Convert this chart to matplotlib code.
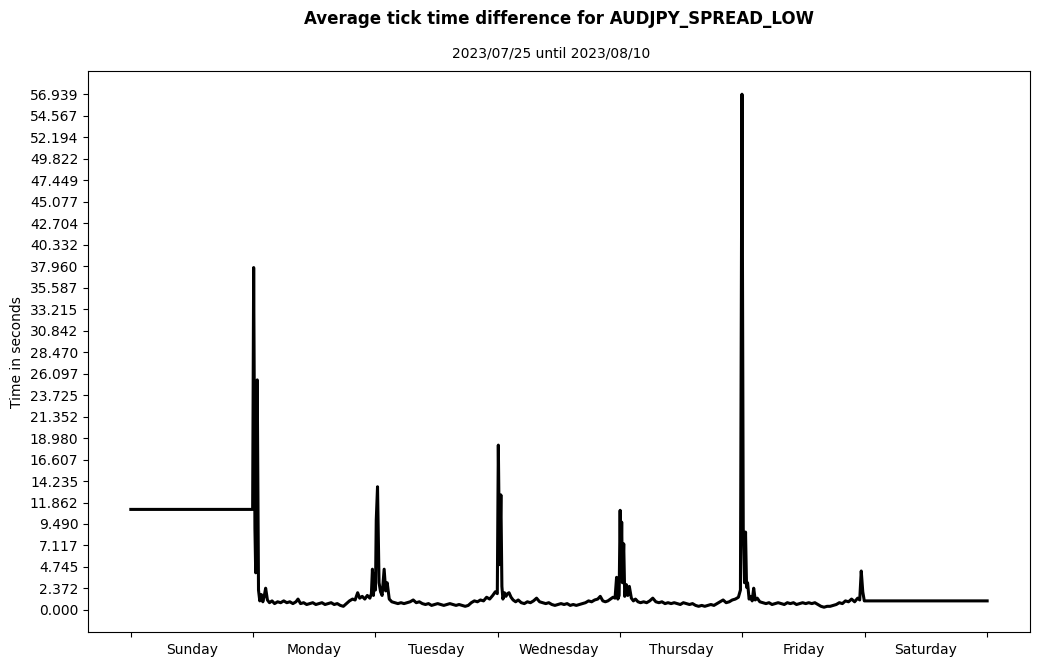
import matplotlib
matplotlib.use("Agg")
import matplotlib.pyplot as plt
import numpy as np

# hours since start of week (Sunday 00:00) and average seconds between ticks
sun_h = [0.0, 23.9]
sun_v = [11.1, 11.1]

mon_h = [24.1, 24.35, 24.5, 24.8, 25.05, 25.3, 25.6, 25.9, 26.2, 26.45, 26.8, 27.2,
         27.7, 28.2, 28.8, 29.4, 30.0, 30.6, 31.2, 31.8, 32.4, 32.8, 33.3, 33.9,
         34.5, 35.1, 35.7, 36.3, 36.9, 37.5, 38.1, 38.7, 39.3, 39.9, 40.5, 41.1,
         41.7, 42.3, 42.9, 43.5, 44.0, 44.5, 44.9, 45.4, 45.9, 46.4, 46.9, 47.2,
         47.4, 47.6, 47.8, 48.0, 48.15, 48.4, 48.7, 49.0, 49.3, 49.7, 50.0, 50.3, 50.7]
mon_v = [37.8, 9.0, 4.1, 25.4, 2.2, 1.0, 1.7, 0.9, 1.6, 2.4, 1.1, 0.8,
         1.0, 0.7, 0.9, 0.8, 1.0, 0.8, 0.9, 0.7, 0.9, 1.2, 0.7, 0.8,
         0.6, 0.7, 0.8, 0.6, 0.7, 0.8, 0.6, 0.7, 0.8, 0.6, 0.7, 0.5,
         0.4, 0.7, 1.0, 1.2, 1.1, 1.9, 1.3, 1.5, 1.2, 1.6, 1.3, 1.8,
         4.5, 1.6, 4.0, 2.2, 9.9, 13.6, 3.0, 2.0, 1.6, 4.5, 2.1, 3.0, 1.2]

tue_h = [51.2, 51.8, 52.4, 53.0, 53.6, 54.2, 54.8, 55.4, 56.0, 56.6, 57.2, 57.8,
         58.4, 59.0, 59.6, 60.2, 60.8, 61.4, 62.0, 62.6, 63.2, 63.8, 64.4, 65.0,
         65.6, 66.2, 66.8, 67.4, 68.0, 68.6, 69.2, 69.8, 70.4, 71.0, 71.5, 71.9]
tue_v = [0.9, 0.8, 0.7, 0.8, 0.7, 0.8, 0.9, 1.1, 0.8, 0.9, 0.7, 0.6,
         0.7, 0.5, 0.6, 0.7, 0.6, 0.5, 0.6, 0.7, 0.6, 0.5, 0.6, 0.5,
         0.4, 0.5, 0.8, 1.0, 0.9, 1.1, 1.0, 1.4, 1.2, 1.6, 2.0, 1.8]

wed_h = [72.1, 72.35, 72.6, 72.8, 73.0, 73.3, 73.6, 73.9, 74.2, 74.6, 75.0, 75.5,
         76.0, 76.6, 77.2, 77.8, 78.4, 79.0, 79.6, 80.2, 80.8, 81.4, 82.0, 82.6,
         83.2, 83.8, 84.4, 85.0, 85.6, 86.2, 86.8, 87.4, 88.0, 88.6, 89.2, 89.8,
         90.4, 91.0, 91.6, 92.1, 92.6, 93.1, 93.6, 94.1, 94.6, 95.0, 95.3, 95.55, 95.8]
wed_v = [18.2, 5.0, 12.7, 2.6, 1.2, 1.9, 1.5, 1.8, 1.9, 1.4, 1.1, 0.9,
         1.1, 0.8, 0.7, 0.9, 0.8, 1.0, 1.3, 0.9, 0.8, 0.7, 0.8, 0.6,
         0.5, 0.6, 0.7, 0.6, 0.7, 0.5, 0.6, 0.5, 0.6, 0.7, 0.8, 1.0,
         0.9, 1.1, 1.2, 1.5, 1.0, 0.9, 1.0, 1.2, 1.4, 1.3, 3.6, 1.2, 1.6]

thu_h = [96.0, 96.15, 96.3, 96.45, 96.7, 96.9, 97.2, 97.5, 97.8, 98.2, 98.6, 99.0,
         99.5, 100.0, 100.6, 101.2, 101.8, 102.4, 103.0, 103.6, 104.2, 104.8, 105.4,
         106.0, 106.6, 107.2, 107.8, 108.4, 109.0, 109.6, 110.2, 110.8, 111.4, 112.0,
         112.6, 113.2, 113.8, 114.4, 115.0, 115.6, 116.2, 116.8, 117.4, 118.0, 118.6,
         119.2, 119.6]
thu_v = [11.0, 4.0, 9.7, 3.0, 7.3, 1.5, 2.8, 1.6, 2.6, 1.3, 1.0, 1.2,
         0.9, 0.8, 0.9, 0.8, 1.0, 1.3, 0.9, 0.8, 0.9, 0.7, 0.8,
         0.7, 0.8, 0.7, 0.6, 0.8, 0.7, 0.6, 0.7, 0.5, 0.4, 0.5,
         0.4, 0.5, 0.6, 0.5, 0.7, 0.9, 1.1, 0.8, 0.9, 1.1, 1.2,
         1.4, 2.2]

fri_h = [119.9, 120.15, 120.4, 120.6, 120.8, 121.0, 121.3, 121.6, 121.9, 122.2, 122.5,
         122.9, 123.4, 124.0, 124.6, 125.2, 125.8, 126.4, 127.0, 127.6, 128.2, 128.8,
         129.4, 130.0, 130.6, 131.2, 131.8, 132.4, 133.0, 133.6, 134.2, 134.8, 135.4,
         136.0, 136.6, 137.2, 137.8, 138.4, 139.0, 139.6, 140.2, 140.8, 141.4, 142.0,
         142.6, 143.0, 143.3, 143.6, 143.9]
fri_v = [56.9393, 9.0, 3.0, 8.6, 2.5, 3.0, 1.2, 1.5, 1.0, 2.4, 1.1,
         1.3, 0.9, 0.8, 0.7, 0.8, 0.6, 0.7, 0.8, 0.7, 0.6, 0.8,
         0.7, 0.8, 0.6, 0.7, 0.8, 0.7, 0.8, 0.7, 0.8, 0.6, 0.4,
         0.3, 0.4, 0.4, 0.5, 0.6, 0.8, 0.7, 1.0, 0.9, 1.2, 0.9,
         1.3, 1.1, 4.3, 2.0, 1.0]

sat_h = [144.2, 168.0]
sat_v = [1.0, 1.0]

days = ["Sunday", "Monday", "Tuesday", "Wednesday", "Thursday", "Friday", "Saturday"]

hours = np.array(sun_h + mon_h + tue_h + wed_h + thu_h + fri_h + sat_h)
values = np.array(sun_v + mon_v + tue_v + wed_v + thu_v + fri_v + sat_v)

fig = plt.figure(figsize=(10.39, 6.64), dpi=100)
ax = fig.add_axes([0.0847, 0.048, 0.9066, 0.845])

ax.plot(hours, values, color="black", linewidth=2.2)

# y ticks: 25 evenly spaced from 0 to the max
yticks = np.linspace(0, values.max(), 25)
ax.set_yticks(yticks)
ax.set_yticklabels(["%.3f" % t for t in yticks])
ax.set_ylim(-2.45, 59.5)
ax.set_ylabel("Time in seconds")

# x: day boundaries as major ticks, day names centred
ax.set_xlim(-8.4, 176.4)
ax.set_xticks(np.arange(0, 169, 24))
ax.set_xticklabels([])
ax.set_xticks(np.arange(12, 168, 24), minor=True)
ax.set_xticklabels(days, minor=True)
ax.tick_params(axis="x", which="minor", length=0, pad=8)

fig.suptitle("Average tick time difference for AUDJPY_SPREAD_LOW",
             fontweight="bold", fontsize=12, x=0.538, y=0.985)
fig.text(0.530, 0.9187, "2023/07/25 until 2023/08/10", fontsize=10,
         ha="center", va="center")

plt.savefig("out.png")
